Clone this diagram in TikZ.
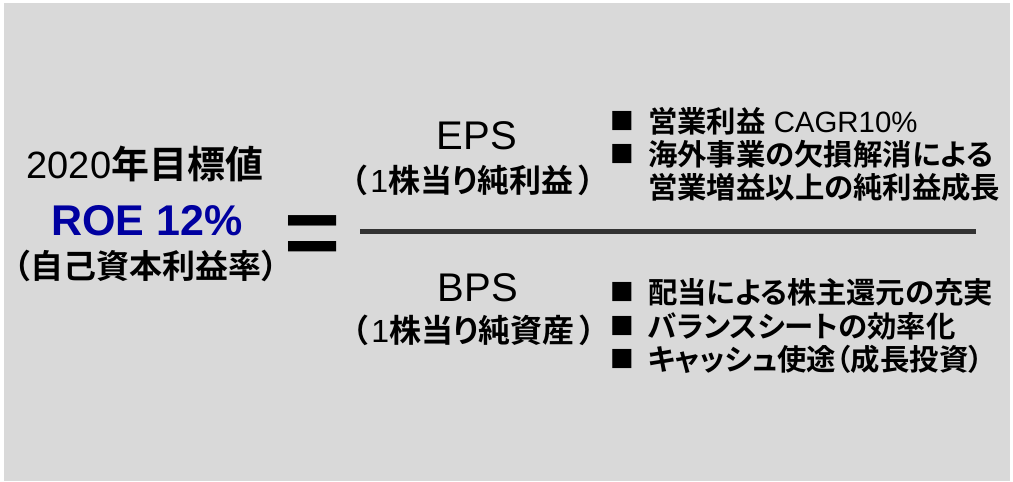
\documentclass[tikz,border=0pt]{standalone}
\usepackage{fontspec}
\setmainfont{Liberation Sans}
\newfontfamily\jp{Noto Sans CJK JP}[BoldFont={Noto Sans CJK JP Bold}, RawFeature=+palt]
\newfontfamily\sym{DejaVu Sans}
\newcommand\J[1]{{\jp\bfseries #1}}
\newcommand\fs[1]{\fontsize{#1}{#1}\selectfont}
\definecolor{bgc}{RGB}{217,217,217}
\definecolor{roeblue}{RGB}{0,0,160}
\definecolor{linec}{RGB}{51,51,51}
\begin{document}
\begin{tikzpicture}[x=1pt,y=-1pt,
  txt/.style={inner sep=0pt, outer sep=0pt, text=black},
  title/.style={txt, font=\fs{38}},
  roe/.style={txt, font=\fs{43}\bfseries, text=roeblue},
  sub/.style={txt, font=\fs{33}},
  head/.style={txt, font=\fs{40}},
  headj/.style={txt, font=\fs{32}},
  bul/.style={txt, font=\sym\fs{25}},
  item/.style={txt, anchor=west, font=\fs{29.4}},
  eqs/.style={txt, anchor=base, font=\fs{96}\bfseries},
  rule/.style={line width=5pt, draw=linec}
]
\useasboundingbox (0,0) rectangle (1013,482);
\fill[bgc] (4,3) rectangle (1010,481);

% left block
\node[title] (goal) at (145,164) {2020\J{年目標値}};
\node[roe] (roe) at (147,221) {ROE 12\%};
\node[sub] (roesub) at (146,266) {\J{（自己資本利益率）}};
\node[eqs] (eq) at (312.5,265) {=};

% dividing line
\coordinate (r1) at (360,231.5);
\coordinate (r2) at (976,231.5);
\draw[rule] (r1) -- (r2);

% EPS
\node[head] (eps) at (477,136) {EPS};
\node[headj] (epsj) at (473,180) {\J{（}\kern3pt 1\J{株当り純利益}\kern5pt\J{）}};
\node[bul] (b1) at (622,121) {■};
\node[item] (i1) at (648,121) {\J{営業利益} CAGR10\%};
\node[bul] (b2) at (622,154) {■};
\node[item] (i2) at (648,154) {\J{海外事業の欠損解消による}};
\node[item] (i3) at (648,187) {\J{営業増益以上の純利益成長}};

% BPS
\node[head] (bps) at (478,288) {BPS};
\node[headj] (bpsj) at (474,330) {\J{（}\kern3pt 1\J{株当り純資産}\kern5pt\J{）}};
\node[bul] (b4) at (622,292) {■};
\node[item] (i4) at (648,292) {\J{配当による株主還元の充実}};
\node[bul] (b5) at (622,326) {■};
\node[item] (i5) at (648,326) {\J{バランスシートの効率化}};
\node[bul] (b6) at (622,359) {■};
\node[item] (i6) at (648,359) {\J{キャッシュ使途（成長投資）}};
\end{tikzpicture}
\end{document}
